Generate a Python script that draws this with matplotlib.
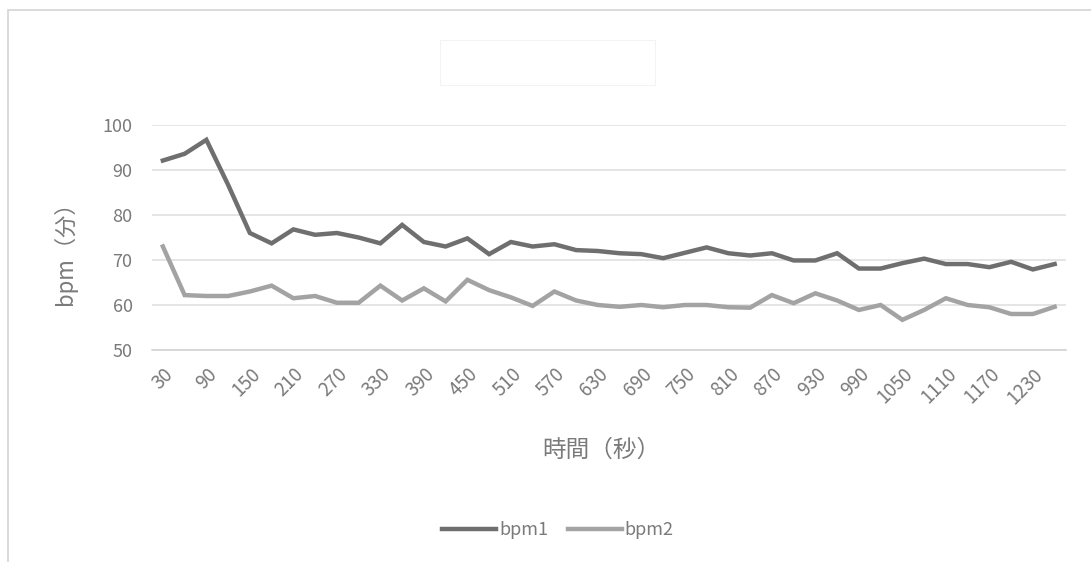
import matplotlib
matplotlib.use("Agg")
import matplotlib.pyplot as plt
from matplotlib.patches import Rectangle
import numpy as np

plt.rcParams['font.family'] = ['Noto Sans CJK JP', 'DejaVu Sans']

# Time in seconds (every 30 s)
seconds = [30 * (i + 1) for i in range(42)]

bpm1 = [92.1, 93.6, 96.7, 86.7, 76.0, 73.7, 76.8, 75.6, 76.0, 75.0,
        73.7, 77.8, 74.0, 73.0, 74.8, 71.3, 74.0, 73.0, 73.5, 72.2,
        72.0, 71.5, 71.3, 70.4, 71.6, 72.8, 71.5, 71.0, 71.5, 69.9,
        69.9, 71.5, 68.1, 68.1, 69.3, 70.3, 69.1, 69.1, 68.4, 69.6,
        67.9, 69.1]

bpm2 = [73.0, 62.2, 62.0, 62.0, 63.0, 64.3, 61.5, 62.0, 60.5, 60.5,
        64.3, 61.0, 63.7, 60.8, 65.6, 63.3, 61.7, 59.8, 63.0, 61.0,
        60.0, 59.6, 60.0, 59.5, 60.0, 60.0, 59.5, 59.4, 62.2, 60.4,
        62.6, 61.0, 58.9, 60.0, 56.7, 58.9, 61.5, 60.0, 59.5, 58.0,
        58.0, 59.6]

y_ticks = [50, 60, 70, 80, 90, 100]

text_color = '#7a7a7a'
grid_color = '#dedede'

fig = plt.figure(figsize=(10.91, 5.62), dpi=100)
fig.patch.set_facecolor('white')

# chart-area border
fig.patches.append(Rectangle((8 / 1091, -0.01), 1.02, 1 - 10 / 562 + 0.01,
                             transform=fig.transFigure, fill=False,
                             edgecolor='#d4d4d4', linewidth=1.2))
# empty title box
fig.patches.append(Rectangle((440 / 1091, 1 - 85 / 562), 215 / 1091, 45 / 562,
                             transform=fig.transFigure, fill=True,
                             facecolor='white', edgecolor='#f3f3f3',
                             linewidth=0.8))

ax = fig.add_axes([152 / 1091, 1 - 350 / 562, (1065.5 - 152) / 1091, 225 / 562])
x = np.arange(len(seconds))

ax.plot(x, bpm1, color='#6f6f6f', linewidth=3.2, label='bpm1',
        solid_joinstyle='miter', zorder=3)
ax.plot(x, bpm2, color='#a3a3a3', linewidth=3.2, label='bpm2',
        solid_joinstyle='miter', zorder=3)

ax.set_xlim(-0.5, len(seconds) - 0.5)
ax.set_ylim(50, 100)
ax.set_yticks(y_ticks)
ax.grid(axis='y', color=grid_color, linewidth=1.1)
ax.set_axisbelow(True)

shown = x[::2]
ax.set_xticks(shown)
ax.set_xticklabels([str(seconds[i]) for i in shown], rotation=45,
                   ha='right', va='top', rotation_mode='anchor')

for side in ['top', 'right', 'left']:
    ax.spines[side].set_visible(False)
ax.spines['bottom'].set_color('#d0d0d0')
ax.spines['bottom'].set_linewidth(1.1)

ax.tick_params(axis='y', length=0, colors=text_color, labelsize=13, pad=14)
ax.tick_params(axis='x', length=0, colors=text_color, labelsize=13.5, pad=10)

fig.text(65 / 1091, 1 - 248 / 562, 'bpm（分）', color=text_color,
         fontsize=16, ha='center', va='center', rotation=90)
fig.text(601 / 1091, 1 - 450 / 562, '時間（秒）', color=text_color,
         fontsize=17, ha='center', va='center')

leg = fig.legend(loc='center', bbox_to_anchor=(558 / 1091, 1 - 530 / 562),
                 ncol=2, frameon=False, fontsize=13, handlelength=3.0,
                 handletextpad=0.15, columnspacing=1.1)
for t in leg.get_texts():
    t.set_color(text_color)

fig.savefig('out.png', dpi=100, facecolor='white')
